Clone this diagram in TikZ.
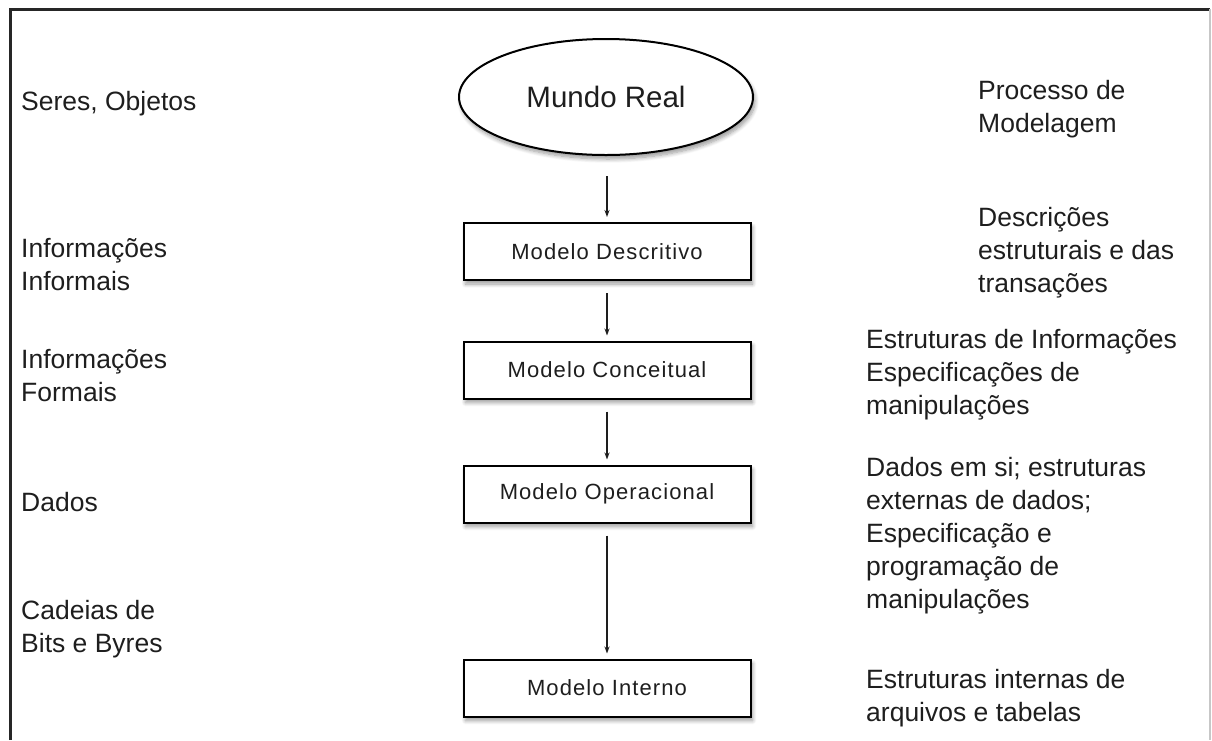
\documentclass[tikz,border=0pt]{standalone}
\usepackage{fontspec}
\setmainfont{Liberation Sans}
\newfontfamily\boxfont[LetterSpace=5]{Liberation Sans}
\usetikzlibrary{shapes.geometric,shadows.blur,arrows.meta}
\definecolor{ink}{HTML}{1E1E1E}
\begin{document}
\begin{tikzpicture}[x=1pt,y=-1pt,
  txt/.style={anchor=west, align=left, inner sep=0pt,
    font=\fontsize{26.5}{33}\selectfont, text=ink},
  softshadow/.style={blur shadow={shadow xshift=2pt, shadow yshift=-4pt,
    shadow blur radius=4pt, shadow blur steps=8, shadow opacity=40}},
  model/.style={draw=black, line width=2pt, fill=white, softshadow,
    minimum width=287pt, minimum height=57pt, inner sep=0pt,
    font=\boxfont\fontsize{22}{26}\selectfont, text=ink},
  world/.style={ellipse, draw=black, line width=2pt, fill=white, softshadow,
    minimum width=294pt, minimum height=116pt, inner sep=0pt,
    font=\fontsize{29.5}{34}\selectfont, text=ink},
  flow/.style={-{Stealth[length=7pt,width=5pt]}, line width=1.3pt, draw=ink,
    shorten >=5pt}]
\useasboundingbox (0,0) rectangle (1212,740);

% page frame
\draw[line width=3pt, black!85] (10,740) -- (10,9) -- (1210,9);
\draw[line width=2pt, black!22] (1210,9) -- (1210,740);

% central chain of models
\node[world] (mundo) at (606,97) {Mundo Real};
\node[model] (desc) at (607,251.5) {Modelo Descritivo};
\node[model] (conc) at (607,370) {Modelo Conceitual};
\node[model] (oper) at (607,494) {Modelo Operacional};
\node[model] (intr) at (607,688) {Modelo Interno};

\draw[flow, shorten <=20pt] (mundo.south -| desc.north) -- (desc.north);
\draw[flow, shorten <=12pt] (desc.south) -- (conc.north);
\draw[flow, shorten <=12pt] (conc.south) -- (oper.north);
\draw[flow, shorten <=12pt] (oper.south) -- (intr.north);

% left column: levels of information
\node[txt] (l1) at (21,104) {Seres, Objetos};
\node[txt] (l2) at (21,265) {Informações\\Informais};
\node[txt] (l3) at (21,376) {Informações\\Formais};
\node[txt] (l4) at (21,502) {Dados};
\node[txt] (l5) at (21,629) {Cadeias de\\Bits e Byres};

% right column: what each level describes
\node[txt] (r1) at (978,109) {Processo de\\Modelagem};
\node[txt] (r2) at (978,253) {Descrições\\estruturais e das\\transações};
\node[txt] (r3) at (866,375) {Estruturas de Informações\\Especificações de\\manipulações};
\node[txt] (r4) at (866,536) {Dados em si; estruturas\\externas de dados;\\Especificação e\\programação de\\manipulações};
\node[txt] (r5) at (866,698) {Estruturas internas de\\arquivos e tabelas};
\end{tikzpicture}
\end{document}
